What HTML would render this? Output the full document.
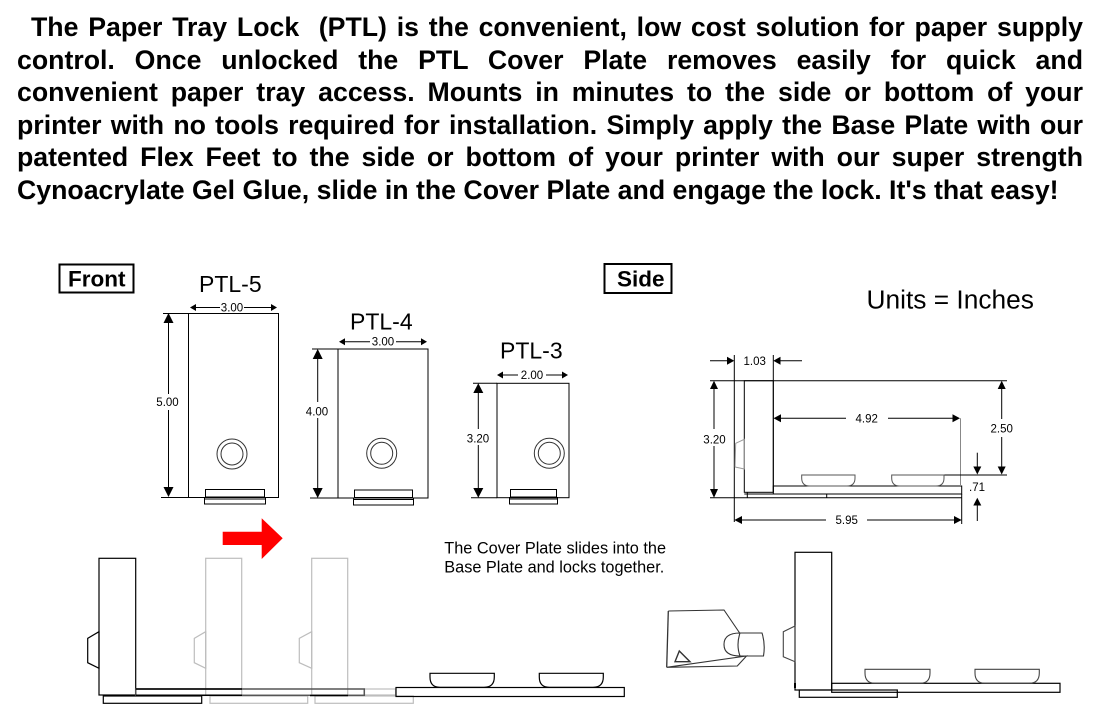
<!DOCTYPE html>
<html>
<head>
<meta charset="utf-8">
<style>
  html, body { margin:0; padding:0; background:#fff; }
  body { width:1103px; height:710px; position:relative; overflow:hidden; font-family:"Liberation Sans", Arial, sans-serif; }
  .ln { position:absolute; left:17px; width:1066px; height:32.5px; line-height:32.5px; font-weight:bold; font-size:26.7px; color:#000; text-align:justify; text-align-last:justify; white-space:nowrap; }
  .ln.last { text-align:left; text-align-last:left; }
  svg { position:absolute; left:0; top:0; }
</style>
</head>
<body>
<div class="ln" style="top:11.2px; padding-left:14px; width:1052px;">The Paper Tray Lock&nbsp; (PTL) is the convenient, low cost solution for paper supply</div>
<div class="ln" style="top:43.7px;">control. Once unlocked the PTL Cover Plate removes easily for quick and</div>
<div class="ln" style="top:76.2px;">convenient paper tray access. Mounts in minutes to the side or bottom of your</div>
<div class="ln" style="top:108.7px;">printer with no tools required for installation. Simply apply the Base Plate with our</div>
<div class="ln" style="top:141.2px;">patented Flex Feet to the side or bottom of your printer with our super strength</div>
<div class="ln last" style="top:173.7px;">Cynoacrylate Gel Glue, slide in the Cover Plate and engage the lock. It's that easy!</div>

<svg width="1103" height="710" viewBox="0 0 1103 710" xmlns="http://www.w3.org/2000/svg" font-family="Liberation Sans, Arial, sans-serif">
  <!-- Labels -->
  <rect x="59.5" y="264.5" width="74" height="28" fill="none" stroke="#000" stroke-width="2"/>
  <text x="68" y="286.5" font-size="22.5" font-weight="bold">Front</text>
  <rect x="604.5" y="264" width="67" height="29" fill="none" stroke="#000" stroke-width="2"/>
  <text x="617" y="286.5" font-size="22.5" font-weight="bold">Side</text>
  <text x="866.5" y="308.3" font-size="26.3">Units = Inches</text>

  <g fill="none" stroke="#000" stroke-width="1">
  <!-- PTL-5 -->
    <rect x="188.5" y="313.5" width="90" height="184"/>
    <circle cx="232" cy="454" r="15" stroke="#333"/>
    <circle cx="232" cy="454" r="11" stroke="#333"/>
    <rect x="205.5" y="489.5" width="59" height="7.5"/>
    <rect x="204.5" y="497.5" width="61" height="6.5"/>
    <line x1="204.5" y1="499" x2="265.5" y2="499"/>
    <line x1="196" y1="307.5" x2="220" y2="307.5"/>
    <line x1="244" y1="307.5" x2="271" y2="307.5"/>
    <line x1="168.5" y1="323" x2="168.5" y2="394"/>
    <line x1="168.5" y1="410" x2="168.5" y2="487"/>
    <line x1="163" y1="313.5" x2="188" y2="313.5"/>
    <line x1="161" y1="497.5" x2="188" y2="497.5"/>
  <!-- PTL-4 -->
    <rect x="338" y="349" width="90" height="149"/>
    <circle cx="381.7" cy="453.3" r="15" stroke="#333"/>
    <circle cx="381.7" cy="453.3" r="11" stroke="#333"/>
    <rect x="354.5" y="490" width="58" height="7.5"/>
    <rect x="353.5" y="498" width="60" height="7"/>
    <line x1="353.5" y1="499.5" x2="413.5" y2="499.5"/>
    <line x1="345" y1="341.7" x2="370" y2="341.7"/>
    <line x1="396" y1="341.7" x2="421" y2="341.7"/>
    <line x1="317.7" y1="359" x2="317.7" y2="402"/>
    <line x1="317.7" y1="418" x2="317.7" y2="488"/>
    <line x1="312" y1="349" x2="338" y2="349"/>
    <line x1="310" y1="498" x2="338" y2="498"/>
  <!-- PTL-3 -->
    <rect x="497" y="383.3" width="72" height="114.4"/>
    <circle cx="549.3" cy="453.3" r="15" stroke="#333"/>
    <circle cx="549.3" cy="453.3" r="11" stroke="#333"/>
    <rect x="510.5" y="489.5" width="46" height="7.5"/>
    <rect x="509.5" y="497.5" width="48" height="6.5"/>
    <line x1="509.5" y1="499" x2="557.5" y2="499"/>
    <line x1="503" y1="375" x2="518" y2="375"/>
    <line x1="546" y1="375" x2="562" y2="375"/>
    <line x1="478.3" y1="393" x2="478.3" y2="429"/>
    <line x1="478.3" y1="445" x2="478.3" y2="488"/>
    <line x1="473" y1="383.3" x2="497" y2="383.3"/>
    <line x1="471" y1="497.7" x2="497" y2="497.7"/>
  </g>
  <g fill="#000">
    <polygon points="190,307.5 196,304 196,311"/>
    <polygon points="277,307.5 271,304 271,311"/>
    <polygon points="168.5,313 163.5,323 173.5,323"/>
    <polygon points="168.5,497 163.5,487 173.5,487"/>
    <polygon points="339,341.7 345,338.2 345,345.2"/>
    <polygon points="427,341.7 421,338.2 421,345.2"/>
    <polygon points="317.7,349 312.7,359 322.7,359"/>
    <polygon points="317.7,498 312.7,488 322.7,488"/>
    <polygon points="497,375 503,371.5 503,378.5"/>
    <polygon points="568,375 562,371.5 562,378.5"/>
    <polygon points="478.3,383.3 473.3,393 483.3,393"/>
    <polygon points="478.3,497.7 473.3,488 483.3,488"/>
  </g>
  <g font-size="11.5" text-anchor="middle" fill="#000">
    <text x="199" y="292" font-size="23" text-anchor="start">PTL-5</text>
    <text x="350" y="329.3" font-size="23" text-anchor="start">PTL-4</text>
    <text x="500" y="358.3" font-size="23" text-anchor="start">PTL-3</text>
    <text x="232" y="311.5">3.00</text>
    <text x="167.5" y="406">5.00</text>
    <text x="383" y="345.7">3.00</text>
    <text x="317" y="415.7">4.00</text>
    <text x="532" y="379">2.00</text>
    <text x="478" y="442.3">3.20</text>
  </g>

  <!-- Side view -->
  <g fill="none" stroke="#000" stroke-width="1">
    <line x1="710" y1="360.7" x2="728" y2="360.7"/>
    <line x1="780" y1="360.7" x2="802" y2="360.7"/>
    <line x1="734.3" y1="355" x2="734.3" y2="522"/>
    <line x1="773.3" y1="355" x2="773.3" y2="492"/>
    <line x1="710" y1="380.7" x2="1007" y2="380.7"/>
    <rect x="744.3" y="380.7" width="29" height="111.6"/>
    <rect x="773.3" y="486" width="188.4" height="8"/>
    <polyline points="747.3,492.3 747.3,497.7"/>
    <line x1="744.3" y1="494" x2="961.7" y2="494"/>
    <line x1="710" y1="497.7" x2="961.7" y2="497.7"/>
    <line x1="826.7" y1="494" x2="826.7" y2="497.7"/>
    <line x1="714" y1="389" x2="714" y2="429"/>
    <line x1="714" y1="446" x2="714" y2="489"/>
    <line x1="781" y1="418.3" x2="846" y2="418.3"/>
    <line x1="888" y1="418.3" x2="953" y2="418.3"/>
    <line x1="960.5" y1="418.3" x2="960.5" y2="486" stroke="#888"/>
    <line x1="1001.7" y1="389" x2="1001.7" y2="419"/>
    <line x1="1001.7" y1="437" x2="1001.7" y2="467"/>
    <line x1="943" y1="475" x2="1007" y2="475"/>
    <line x1="977.3" y1="452.7" x2="977.3" y2="467"/>
    <line x1="977.3" y1="505" x2="977.3" y2="521"/>
    <line x1="741" y1="520" x2="826" y2="520"/>
    <line x1="867" y1="520" x2="955" y2="520"/>
    <line x1="961.7" y1="494" x2="961.7" y2="524"/>
    <polygon points="744.3,439.3 735.7,443.3 735,467 744.3,469" stroke="#999"/>
    <path d="M801.7 475 H855 V478 Q855 486 847 486 H809.7 Q801.7 486 801.7 478 Z" stroke="#555"/>
    <path d="M891.7 475 H944 V478 Q944 486 936 486 H899.7 Q891.7 486 891.7 478 Z" stroke="#555"/>
  </g>
  <g fill="#000">
    <polygon points="734.3,360.7 727,356.7 727,364.7"/>
    <polygon points="773.3,360.7 780.5,356.7 780.5,364.7"/>
    <polygon points="714,380.7 710,389 718,389"/>
    <polygon points="714,497.7 710,489 718,489"/>
    <polygon points="773.5,418.3 781,414.3 781,422.3"/>
    <polygon points="960,418.3 952.5,414.3 952.5,422.3"/>
    <polygon points="1001.7,380.7 997.7,389 1005.7,389"/>
    <polygon points="1001.7,474.5 997.7,466.5 1005.7,466.5"/>
    <polygon points="977.3,474.5 973.3,466.5 981.3,466.5"/>
    <polygon points="977.3,497.7 973.3,505.5 981.3,505.5"/>
    <polygon points="734.3,520 742,516 742,524"/>
    <polygon points="961.7,520 954,516 954,524"/>
  </g>
  <g font-size="11.5" text-anchor="middle" fill="#000">
    <text x="754.7" y="365">1.03</text>
    <text x="714.5" y="443.5">3.20</text>
    <text x="866.7" y="422.3">4.92</text>
    <text x="1001.7" y="432.5">2.50</text>
    <text x="977" y="490.8">.71</text>
    <text x="846.7" y="524">5.95</text>
  </g>

  <!-- Red arrow -->
  <polygon points="222.7,531.7 261.7,531.7 261.7,518.3 282.7,538.3 261.7,559 261.7,545 222.7,545" fill="#ff0000"/>

  <!-- Caption -->
  <text x="444.3" y="553.3" font-size="16.3" fill="#000">The Cover Plate slides into the</text>
  <text x="444.3" y="572.7" font-size="16.3" fill="#000">Base Plate and locks together.</text>

  <!-- Bottom-left sequence -->
  <g fill="none" stroke="#bdbdbd" stroke-width="1.2">
    <rect x="205.7" y="558.3" width="36" height="136.7"/>
    <polygon points="205.7,631.7 194.3,638.3 194.3,662.7 205.7,668.3"/>
    <rect x="210" y="696" width="97.7" height="7.3"/>
    <rect x="311.7" y="558.3" width="36" height="136.7"/>
    <polygon points="311.7,631.7 299.3,638.3 299.3,662.7 311.7,668.3"/>
    <rect x="315" y="696" width="98.3" height="7.3"/>
    <rect x="364.3" y="689" width="31.4" height="6"/>
  </g>
  <g fill="none" stroke="#000" stroke-width="1.2">
    <rect x="99" y="558.3" width="36.7" height="136.7" fill="#fff"/>
    <polygon points="99,631.7 87.7,638.3 87.7,662.7 99,668.3"/>
    <rect x="103.3" y="696" width="98.4" height="7.3"/>
    <rect x="135.7" y="689" width="228.6" height="6.3" stroke="#555" stroke-width="1.5"/>
    <line x1="135.7" y1="689" x2="242" y2="689" stroke="#000" stroke-width="1.5"/>
    <line x1="135.7" y1="695.3" x2="242" y2="695.3" stroke="#000" stroke-width="1.5"/>
    <line x1="310" y1="695.5" x2="348" y2="695.5" stroke="#000" stroke-width="1.5"/>
    <rect x="396" y="687.5" width="228.3" height="9"/>
    <path d="M430 673.3 H494.3 V677 Q494.3 687.3 484 687.3 H440 Q430 687.3 430 677 Z"/>
    <path d="M539.3 673.3 H603.3 V677 Q603.3 687.3 593 687.3 H549.3 Q539.3 687.3 539.3 677 Z"/>
  </g>

  <!-- Bottom-right assembly -->
  <g fill="none" stroke="#000" stroke-width="1.2">
    <rect x="795" y="552.3" width="36.7" height="137.7"/>
    <rect x="831.7" y="683.3" width="228.3" height="9"/>
    <rect x="799.3" y="690" width="98" height="7.3"/>
    <line x1="795" y1="683" x2="795" y2="688" stroke-width="2"/>
  </g>
  <g fill="none" stroke="#444" stroke-width="1.1">
    <polygon points="795,626 783.3,631.7 783.3,656.7 795,661.7"/>
    <path d="M865 669.3 H930 V673 Q930 683.3 920 683.3 H875 Q865 683.3 865 673 Z"/>
    <path d="M975 669.3 H1039.3 V673 Q1039.3 683.3 1029 683.3 H985 Q975 683.3 975 673 Z"/>
    <path d="M668.3 611 L724 610 L740 633.5 M746.5 656 L737.3 666 L666.7 667.3 Z" stroke="#333"/>
    <line x1="668.3" y1="611" x2="666.7" y2="667.3" stroke="#333" stroke-width="1.3"/>
    <path d="M738.5 633 H762 Q765.5 644 763.5 656 H738.5" stroke="#333"/>
    <path d="M740 633 Q724 633 724 644.5 Q724 656 740 656 Q736 645 740 633 Z" stroke="#333"/>
    <polygon points="675,661.7 679.3,651 690,661.7" stroke="#333" stroke-width="1.4"/>
  </g>
</svg>
</body>
</html>
